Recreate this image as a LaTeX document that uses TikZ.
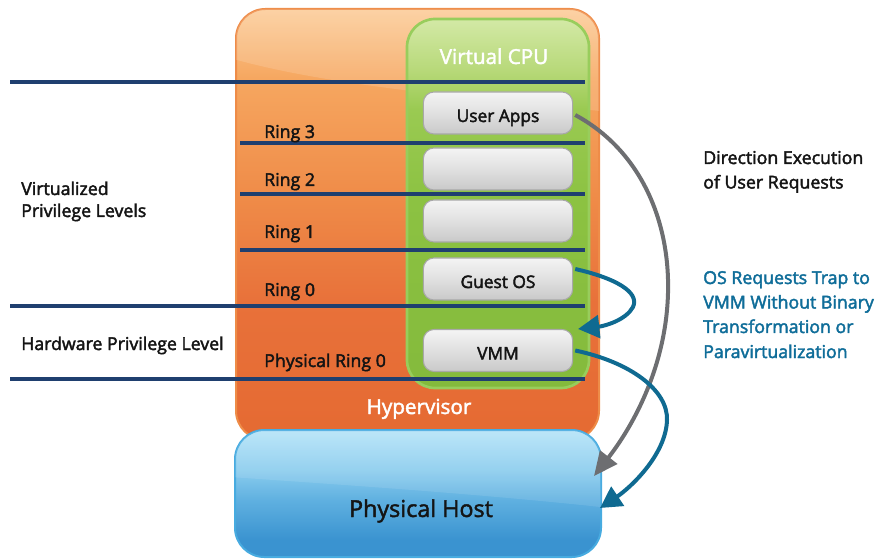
\documentclass[tikz,border=0pt]{standalone}
\usepackage{fontspec}
\setmainfont{Open Sans}
\usetikzlibrary{arrows.meta,calc}

% slightly heavier glyphs: fill + stroke the text outlines
\newcommand\heavyon{\special{pdf:literal direct 2 Tr 0.32 w}}
\newcommand\heavyoff{\special{pdf:literal direct 0 Tr}}

% palette
\definecolor{navy}{HTML}{1F3F6F}
\definecolor{hypA}{HTML}{FCCB96}
\definecolor{hypB}{HTML}{F6A760}
\definecolor{hypC}{HTML}{EF8B48}
\definecolor{hypD}{HTML}{E8713A}
\definecolor{hypE}{HTML}{E56A32}
\definecolor{hypline}{HTML}{EE8C48}
\definecolor{cpuA}{HTML}{D3E9A6}
\definecolor{cpuB}{HTML}{B8D97A}
\definecolor{cpuC}{HTML}{9ACA52}
\definecolor{cpuD}{HTML}{8CC242}
\definecolor{cpuE}{HTML}{84BA3C}
\definecolor{cpuline}{HTML}{98CD5C}
\definecolor{grA}{HTML}{F4F4F4}
\definecolor{grB}{HTML}{E0E0E0}
\definecolor{grC}{HTML}{C9C9C9}
\definecolor{grline}{HTML}{A8A8A8}
\definecolor{hostA}{HTML}{B5E4F8}
\definecolor{hostB}{HTML}{8ACCEE}
\definecolor{hostC}{HTML}{5FB0E0}
\definecolor{hostD}{HTML}{3A93D0}
\definecolor{hostline}{HTML}{47ABE0}
\definecolor{trapblue}{HTML}{0F6A91}
\definecolor{textblue}{HTML}{0F6D99}
\definecolor{flowgray}{HTML}{6D6E71}
\definecolor{ink}{HTML}{141414}

% vertical shadings (the 25bp--75bp band spans the filled shape)
\pgfdeclareverticalshading{hypshade}{100bp}{color(0bp)=(hypE); color(25bp)=(hypE); color(41bp)=(hypD); color(53bp)=(hypC); color(67bp)=(hypB); color(75bp)=(hypA); color(100bp)=(hypA)}
\pgfdeclareverticalshading{cpushade}{100bp}{color(0bp)=(cpuE); color(25bp)=(cpuE); color(50.5bp)=(cpuD); color(62.8bp)=(cpuC); color(68.2bp)=(cpuB); color(75bp)=(cpuA); color(100bp)=(cpuA)}
\pgfdeclareverticalshading{grayshade}{100bp}{color(0bp)=(grC); color(25bp)=(grC); color(50bp)=(grB); color(75bp)=(grA); color(100bp)=(grA)}
\pgfdeclareverticalshading{hostshade}{100bp}{color(0bp)=(hostD); color(25bp)=(hostD); color(31.7bp)=(hostD); color(47.4bp)=(hostC); color(59.3bp)=(hostB); color(75bp)=(hostA); color(100bp)=(hostA)}

\tikzset{
  heavy/.style={execute at begin node=\heavyon, execute at end node=\heavyoff},
  hypbox/.style={shade, shading=hypshade, draw=hypline, line width=1.5pt,
    rounded corners=22pt, minimum width=272.25pt, minimum height=323.25pt, inner sep=0pt},
  cpubox/.style={shade, shading=cpushade, draw=cpuline, line width=2pt,
    rounded corners=21pt, minimum width=136.5pt, minimum height=276.75pt, inner sep=0pt},
  slotbox/.style={shade, shading=grayshade, draw=grline, line width=0.8pt,
    rounded corners=8pt, minimum width=112pt, minimum height=31.5pt, inner sep=0pt,
    text height=13.5pt, text depth=0pt, heavy,
    font=\fontsize{13}{15}\selectfont, text=ink},
  hostbox/.style={shade, shading=hostshade, draw=hostline, line width=1.5pt,
    rounded corners=22pt, minimum width=274.5pt, minimum height=95.25pt, inner sep=0pt},
  level/.style={draw=navy, line width=3pt},
  lbl/.style={inner sep=0pt, anchor=base west, heavy, font=\fontsize{13.3}{16}\selectfont, text=ink},
  bluelbl/.style={lbl, text=textblue},
  title/.style={inner sep=0pt, anchor=base, heavy, font=\fontsize{15.5}{18}\selectfont, text=white},
  flow/.style={draw=flowgray, line width=3pt, -{Triangle[length=18pt,width=16pt]}},
  trap/.style={draw=trapblue, line width=3pt, -{Triangle[length=16pt,width=17pt]}}
}

\begin{document}
\begin{tikzpicture}[x=0.75pt,y=-0.75pt]
\useasboundingbox (0,0) rectangle (895,559);

% hypervisor body with glossy upper band
\node[hypbox] (hyp) at (417.5,224.5) {};
\begin{scope}
  \clip[rounded corners=22pt] (236,9) rectangle (599,440);
  \fill[white, opacity=0.14] (230,0) -- (610,0) -- (610,112)
    .. controls (450,96) and (320,84) .. (230,58) -- cycle;
\end{scope}

% virtual CPU column
\node[cpubox] (cpu) at (498,203.5) {};
\node[title] (cputitle) at (494,64) {Virtual CPU};

% privilege level separators
\draw[level] (10,82.5) -- (585,82.5);
\draw[level] (240,143.5) -- (585,143.5);
\draw[level] (240,194) -- (585,194);
\draw[level] (240,250.5) -- (585,250.5);
\draw[level] (10,306.5) -- (585,306.5);
\draw[level] (10,379) -- (585,379);

% ring slots
\node[slotbox] (apps) at (498,113) {User Apps};
\node[slotbox] (slot2) at (498,169) {};
\node[slotbox] (slot1) at (498,221) {};
\node[slotbox] (guest) at (498,279) {Guest OS};
\node[slotbox] (vmm) at (498,350.5) {VMM};

% ring labels
\node[lbl] (r3) at (264,138) {Ring 3};
\node[lbl] (r2) at (264,186) {Ring 2};
\node[lbl] (r1) at (264,238) {Ring 1};
\node[lbl] (r0) at (264,296) {Ring 0};
\node[lbl] (pr0) at (264,367) {Physical Ring 0};

\node[title] (hyptitle) at (419,414) {Hypervisor};

% physical host
\node[hostbox] (host) at (418,493.5) {};
\begin{scope}
  \clip[rounded corners=22pt] (235,430) rectangle (601,557);
  \fill[white, opacity=0.10] (230,420) -- (610,420) -- (610,508)
    .. controls (480,494) and (360,486) .. (230,477) -- cycle;
\end{scope}
\node[inner sep=0pt, anchor=base, heavy, font=\fontsize{17.5}{20}\selectfont, text=ink] (hosttxt) at (421,517) {Physical Host};

% left side captions
\node[lbl] (v1) at (21,195) {Virtualized};
\node[lbl] (v2) at (21,217) {Privilege Levels};
\node[lbl] (hw) at (21,350) {Hardware Privilege Level};

% right side captions
\node[lbl] (d1) at (703,164) {Direction Execution};
\node[lbl] (d2) at (703,188.5) {of User Requests};
\node[bluelbl] (o1) at (703,284) {OS Requests Trap to};
\node[bluelbl] (o2) at (703,308.5) {VMM Without Binary};
\node[bluelbl] (o3) at (703,333) {Transformation or};
\node[bluelbl] (o4) at (703,358) {Paravirtualization};

% flow arrows
\coordinate (gtip) at (594,476);
\coordinate (t1) at (578,329);
\coordinate (t2) at (600,508);
\draw[flow] ($(apps.east)+(2,2)$) .. controls (640,150) and (670,220) .. (668,293)
  .. controls (666,370) and (630,430) .. (gtip);
\draw[trap] ($(guest.east)+(2,-10)$) .. controls (615,278) and (640,292) .. (633,307)
  .. controls (626,320) and (605,326) .. (t1);
\draw[trap] ($(vmm.east)+(2,0)$) .. controls (630,362) and (668,390) .. (667,420)
  .. controls (666,455) and (630,488) .. (t2);
\end{tikzpicture}
\end{document}
